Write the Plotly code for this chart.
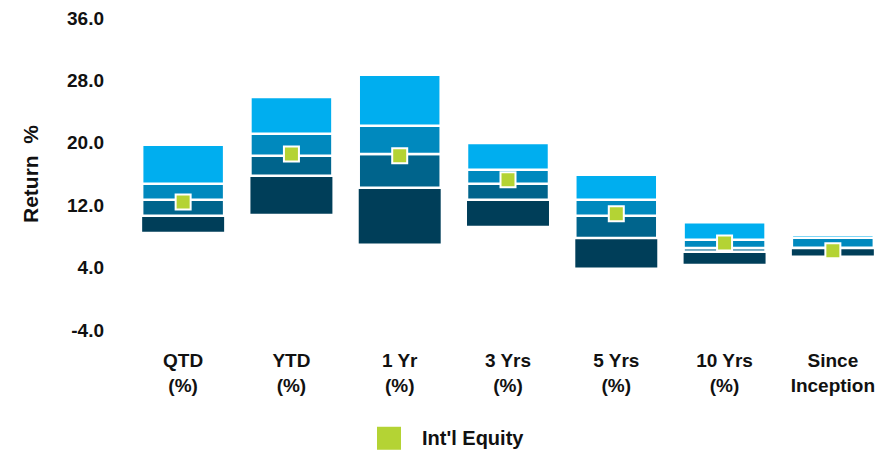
import plotly.graph_objects as go

# Peer-universe percentile ranges and the portfolio return per period
periods = ["QTD<br>(%)", "YTD<br>(%)", "1 Yr<br>(%)", "3 Yrs<br>(%)",
           "5 Yrs<br>(%)", "10 Yrs<br>(%)", "Since<br>Inception"]
pct_5th = [19.74, 25.87, 28.72, 19.96, 15.90, 9.83, 8.20]
pct_25th = [14.74, 21.15, 22.18, 16.54, 12.69, 7.56, 7.82]
median = [12.69, 18.33, 18.55, 14.74, 10.64, 6.50, 6.54]
pct_75th = [10.64, 15.77, 14.23, 12.69, 7.78, 6.03, 6.50]
pct_95th = [8.59, 10.90, 7.09, 9.36, 4.01, 4.49, 5.55]
intl_equity = [12.40, 18.55, 18.33, 15.26, 10.90, 7.14, 6.15]
series_name = "Int'l Equity"
y_ticks = [-4.0, 4.0, 12.0, 20.0, 28.0, 36.0]

FONT = "Liberation Sans, Arial, sans-serif"
GREEN = "#B4D334"
INK = "#111111"

# bottom band to top band: (lower edge, upper edge, colour, white outline width)
bands = [
    (pct_95th, pct_75th, "#003E59", 0),
    (pct_75th, median, "#00648C", 2.5),
    (median, pct_25th, "#0089BE", 2.5),
    (pct_25th, pct_5th, "#00AEEF", 2.5),
]

fig = go.Figure()
for lo, hi, colour, lw in bands:
    fig.add_trace(go.Bar(
        x=periods,
        y=[h - l for l, h in zip(lo, hi)],
        base=lo,
        marker=dict(color=colour, line=dict(color="white", width=lw)),
        showlegend=False,
        hoverinfo="skip",
    ))

fig.add_trace(go.Scatter(
    x=periods, y=intl_equity, mode="markers", name=series_name,
    marker=dict(symbol="square", size=15, color=GREEN,
                line=dict(color="white", width=2)),
    showlegend=False,
))

# legend entry drawn below the axis
fig.add_shape(type="rect", xref="paper", yref="paper",
              xsizemode="pixel", ysizemode="pixel",
              xanchor=0.343, yanchor=-0.347,
              x0=-12, x1=12, y0=-11.5, y1=11.5,
              fillcolor=GREEN, line=dict(width=0))
fig.add_annotation(text=series_name, xref="paper", yref="paper",
                   x=0.384, y=-0.347, xanchor="left", yanchor="middle",
                   showarrow=False,
                   font=dict(family=FONT, size=20, color=INK, weight="bold"))

fig.update_layout(
    width=894, height=453,
    margin=dict(l=129, r=7, t=18, b=123),
    paper_bgcolor="white", plot_bgcolor="white",
    barmode="overlay", bargap=0.243,
    showlegend=False,
    font=dict(family=FONT, color=INK),
)
fig.update_xaxes(
    showgrid=False, showline=False, zeroline=False, ticks="",
    tickfont=dict(family=FONT, size=19, color=INK, weight="bold"),
    ticklabelstandoff=17,
)
fig.update_yaxes(
    range=[-4, 36], tickmode="array", tickvals=y_ticks,
    ticktext=[f"{v:.1f}" for v in y_ticks],
    showgrid=False, showline=False, zeroline=False, ticks="",
    tickfont=dict(family=FONT, size=19, color=INK, weight="bold"),
    ticklabelstandoff=24,
    title=dict(text="Return  %", standoff=22,
               font=dict(family=FONT, size=21, color=INK, weight="bold")),
)

fig.write_html("out.html")
